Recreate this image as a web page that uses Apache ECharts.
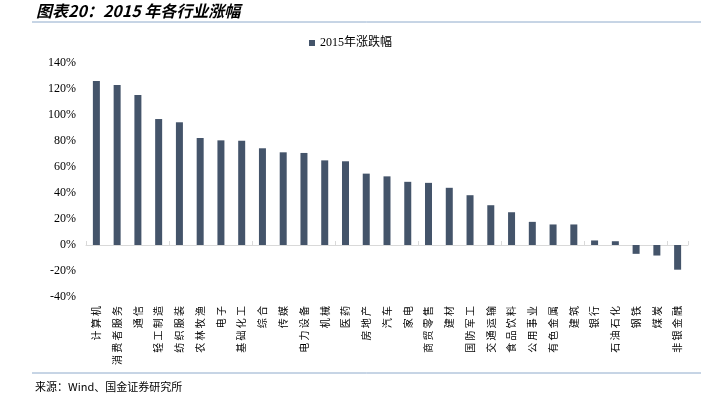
<!DOCTYPE html>
<html><head><meta charset="utf-8">
<script src="https://cdn.jsdelivr.net/npm/echarts@6/dist/echarts.min.js"></script>
<style>html,body{margin:0;padding:0;background:#fff}#c{width:701px;height:409px}</style>
</head><body><div id="c"></div>
<script>
const categories = ['计算机','消费者服务','通信','轻工制造','纺织服装','农林牧渔','电子','基础化工','综合','传媒','电力设备','机械','医药','房地产','汽车','家电','商贸零售','建材','国防军工','交通运输','食品饮料','公用事业','有色金属','建筑','银行','石油石化','钢铁','煤炭','非银金融'];
const values = [126.2,123.0,115.4,96.9,94.4,82.3,80.5,80.2,74.4,71.3,70.8,65.1,64.4,54.9,52.8,48.6,47.8,44.0,38.3,30.6,25.2,17.8,15.8,15.8,3.5,2.9,-6.8,-8.1,-19.0];
const seriesName = '2015年涨跌幅';
const yTicks = {min:-40, max:140, interval:20};

const chart = echarts.init(document.getElementById('c'), null, {renderer:'canvas'});
chart.setOption({
  animation:false,
  backgroundColor:'#fff',
  graphic:[
    {type:'text', left:36, top:3, style:{text:'图表20：2015 年各行业涨幅', font:'italic bold 16px "Noto Sans CJK SC"', fill:'#000'}},
    {type:'line', shape:{x1:32,y1:22,x2:701,y2:22}, style:{stroke:'#8eaacb', lineWidth:1}},
    {type:'line', shape:{x1:32,y1:373,x2:701,y2:373}, style:{stroke:'#8eaacb', lineWidth:1}},
    {type:'text', left:35, top:381, style:{text:'来源：Wind、国金证券研究所', font:'11px "Noto Sans CJK SC"', fill:'#000'}}
  ],
  legend:{
    top:32, left:'center', itemWidth:6, itemHeight:6, itemGap:5,
    icon:'rect',
    textStyle:{fontFamily:'"Liberation Serif","Noto Sans CJK SC"', fontSize:12, color:'#000'},
    data:[seriesName]
  },
  grid:{left:86, right:13, top:63, bottom:112, containLabel:false},
  xAxis:[
    {type:'category', data:categories, position:'bottom',
     axisLine:{show:false, onZero:false}, axisTick:{show:false},
     axisLabel:{rotate:90, interval:0, margin:9, fontSize:10, color:'#000', fontFamily:'"Noto Sans CJK SC"',
       formatter:v=>v.split('').join(' ')}},
    {type:'category', data:categories, position:'bottom',
     axisLine:{show:true, onZero:true, lineStyle:{color:'#d9d9d9', width:1}},
     axisTick:{show:true, inside:true, length:4, lineStyle:{color:'#d9d9d9'}},
     axisLabel:{show:false}}
  ],
  yAxis:{type:'value', min:yTicks.min, max:yTicks.max, interval:yTicks.interval,
    axisLine:{show:false}, axisTick:{show:false}, splitLine:{show:false},
    axisLabel:{formatter:'{value}%', margin:10, fontSize:12, color:'#000', fontFamily:'"Liberation Serif"'}},
  series:[{name:seriesName, type:'bar', data:values, barWidth:7, xAxisIndex:0,
    itemStyle:{color:'#44546a'}}]
});
</script></body></html>
